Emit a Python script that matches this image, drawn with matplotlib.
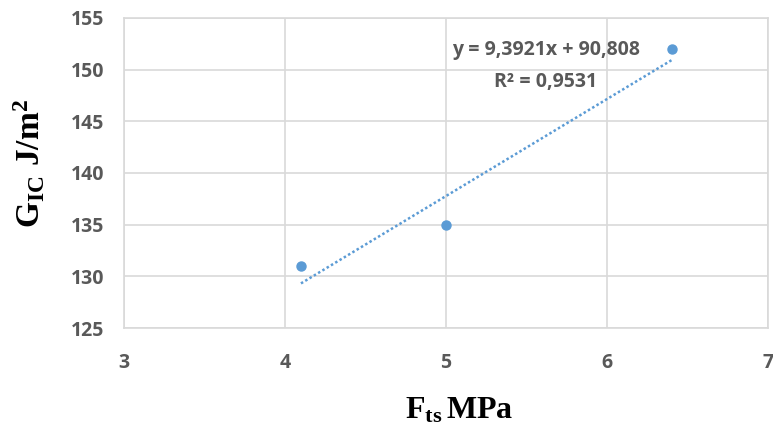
import matplotlib.pyplot as plt
import numpy as np

plt.rcParams['mathtext.fontset'] = 'custom'
plt.rcParams['mathtext.rm'] = 'Liberation Serif:bold'
plt.rcParams['mathtext.bf'] = 'Liberation Serif:bold'
plt.rcParams['mathtext.it'] = 'Liberation Serif:bold'

# tensile strength (MPa) vs fracture toughness (J/m^2)
fts = [4.1, 5.0, 6.4]
gic = [131, 135, 152]

x_ticks = [3, 4, 5, 6, 7]
y_ticks = [125, 130, 135, 140, 145, 150, 155]

blue = "#5b9bd5"
grey_txt = "#595959"

fig = plt.figure(figsize=(7.73, 4.26), dpi=100)
ax = fig.add_axes([0.160, 0.230, 0.834, 0.728])

ax.plot(fts, gic, "o", color=blue, markersize=6.5, zorder=3)

# linear trendline over the data range
slope, intercept = np.polyfit(fts, gic, 1)
pred = slope * np.array(fts) + intercept
r2 = 1 - np.sum((np.array(gic) - pred) ** 2) / np.sum((np.array(gic) - np.mean(gic)) ** 2)
xs = np.array([min(fts), max(fts)])
ax.plot(xs, slope * xs + intercept, linestyle=(0, (1, 1)), color=blue, lw=1.8, zorder=2)

eq = f"y = {slope:.4f}x + {intercept:.3f}".replace(".", ",")
r2_txt = "R² = " + f"{r2:.4f}".replace(".", ",")
ax.text(5.62, 151.9, eq, ha="center", va="center", fontsize=14,
        fontweight="bold", color=grey_txt, family="Open Sans")
ax.text(5.62, 148.8, r2_txt, ha="center", va="center",
        fontsize=14, fontweight="bold", color=grey_txt, family="Open Sans")

ax.set_xlim(3, 7)
ax.set_ylim(125, 155)
ax.set_xticks(x_ticks)
ax.set_yticks(y_ticks)
ax.grid(True, color="#d9d9d9", lw=1.2)
ax.set_axisbelow(True)
for s in ax.spines.values():
    s.set_color("#d9d9d9")
    s.set_linewidth(1.2)
ax.tick_params(length=0, pad=14, labelsize=14, labelcolor=grey_txt)
ax.tick_params(axis="x", pad=18)
for lab in ax.get_xticklabels() + ax.get_yticklabels():
    lab.set_fontweight("bold")
    lab.set_family("Open Sans")

ax.set_xlabel(r"$\mathrm{F_{ts}\,MPa}$", fontsize=23, color="black")
ax.set_ylabel(r"$\mathrm{G_{IC}\ J/m^{2}}$", fontsize=24, color="black")
ax.xaxis.set_label_coords(0.52, -0.215)
ax.yaxis.set_label_coords(-0.118, 0.53)

fig.savefig("out.png", dpi=100)
